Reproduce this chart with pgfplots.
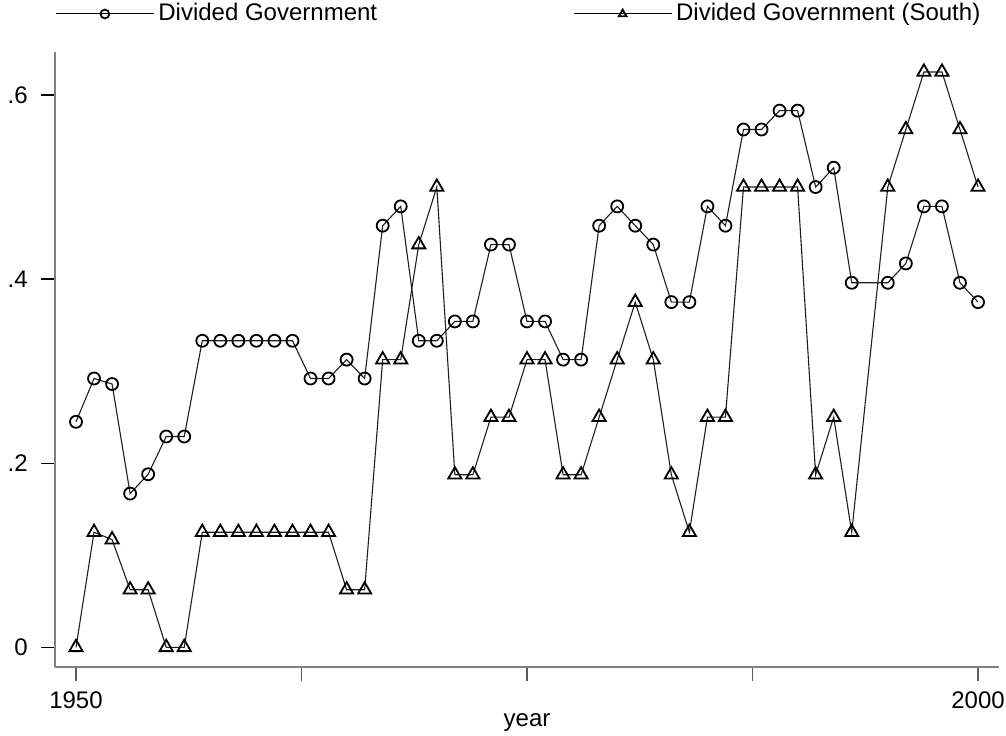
\documentclass[border=0pt]{standalone}
\usepackage{pgfplots}
\pgfplotsset{compat=1.18}
\usepackage{fontspec}
\setmainfont{Liberation Sans}

\definecolor{axisgray}{RGB}{128,128,128}
\definecolor{linegray}{RGB}{30,30,30}

\begin{document}
\fontsize{12}{14}\selectfont
\begin{tikzpicture}
\path[use as bounding box] (-27.5pt,-34pt) rectangle (475.5pt,333.5pt);
\begin{axis}[
    at={(0,0)}, anchor=south west,
    scale only axis,
    width=472pt, height=307.5pt,
    xmin=1948.836, xmax=2001.164,
    ymin=-0.0214, ymax=0.6467,
    axis x line*=bottom, axis y line*=left,
    axis line style={draw=axisgray, line width=1pt, -},
    xtick={1950,1962.5,1975,1987.5,2000},
    xticklabels={1950,,,,2000},
    ytick={0,0.2,0.4,0.6},
    yticklabels={0,.2,.4,.6},
    tick align=outside,
    major tick length=7pt,
    xtick style={draw=axisgray!70!black, line width=0.6pt},
    ytick style={draw=black, line width=0.6pt},
    x tick label style={font=\fontsize{12}{14}\selectfont, yshift=-1pt},
    y tick label style={font=\fontsize{12}{14}\selectfont, anchor=east, xshift=-2.5pt},
    /pgf/number format/assume math mode=true,
    xlabel={year},
    xlabel style={font=\fontsize{12}{14}\selectfont, at={(axis description cs:0.5,0)}, anchor=base, yshift=-29.5pt},
    clip=false,
    legend columns=2,
    legend style={draw=none, fill=none, at={(0,1)}, anchor=west, yshift=19pt,
        inner xsep=0pt, inner ysep=0pt, font=\fontsize{12}{14}\selectfont,
        /tikz/every even column/.append style={column sep=96pt}},
    legend cell align=left,
    legend image code/.code={
        \draw[black, line width=0.5pt] (0pt,0pt) -- (49pt,0pt);
        \draw[#1, mark indices={2}, draw=none, mark size=2.2pt]
            plot coordinates {(0pt,0pt) (24.5pt,0pt) (49pt,0pt)};
    },
]

\addplot[draw=linegray, line width=0.55pt, mark=o, mark size=3pt,
    mark options={draw=black, line width=0.9pt, fill=none}]
coordinates {
    (1950,0.245) (1951,0.292) (1952,0.286) (1953,0.167) (1954,0.188)
    (1955,0.229) (1956,0.229) (1957,0.333) (1958,0.333) (1959,0.333)
    (1960,0.333) (1961,0.333) (1962,0.333) (1963,0.292) (1964,0.292)
    (1965,0.3125) (1966,0.292) (1967,0.458) (1968,0.479) (1969,0.333)
    (1970,0.333) (1971,0.354) (1972,0.354) (1973,0.4375) (1974,0.4375)
    (1975,0.354) (1976,0.354) (1977,0.3125) (1978,0.3125) (1979,0.458)
    (1980,0.479) (1981,0.458) (1982,0.4375) (1983,0.375) (1984,0.375)
    (1985,0.479) (1986,0.458) (1987,0.5625) (1988,0.5625) (1989,0.583)
    (1990,0.583) (1991,0.5) (1992,0.521) (1993,0.396)
    (1995,0.396) (1996,0.417) (1997,0.479) (1998,0.479) (1999,0.396)
    (2000,0.375)
};
\addlegendentry{Divided Government}

\addplot[draw=linegray, line width=0.55pt, mark=triangle, mark size=3.8pt,
    mark options={draw=black, line width=0.9pt, fill=none}]
coordinates {
    (1950,0) (1951,0.125) (1952,0.117) (1953,0.0625) (1954,0.0625)
    (1955,0) (1956,0) (1957,0.125) (1958,0.125) (1959,0.125)
    (1960,0.125) (1961,0.125) (1962,0.125) (1963,0.125) (1964,0.125)
    (1965,0.0625) (1966,0.0625) (1967,0.3125) (1968,0.3125) (1969,0.4375)
    (1970,0.5) (1971,0.1875) (1972,0.1875) (1973,0.25) (1974,0.25)
    (1975,0.3125) (1976,0.3125) (1977,0.1875) (1978,0.1875) (1979,0.25)
    (1980,0.3125) (1981,0.375) (1982,0.3125) (1983,0.1875) (1984,0.125)
    (1985,0.25) (1986,0.25) (1987,0.5) (1988,0.5) (1989,0.5)
    (1990,0.5) (1991,0.1875) (1992,0.25) (1993,0.125)
    (1995,0.5) (1996,0.5625) (1997,0.625) (1998,0.625) (1999,0.5625)
    (2000,0.5)
};
\addlegendentry{Divided Government (South)}

\end{axis}
\end{tikzpicture}
\end{document}
